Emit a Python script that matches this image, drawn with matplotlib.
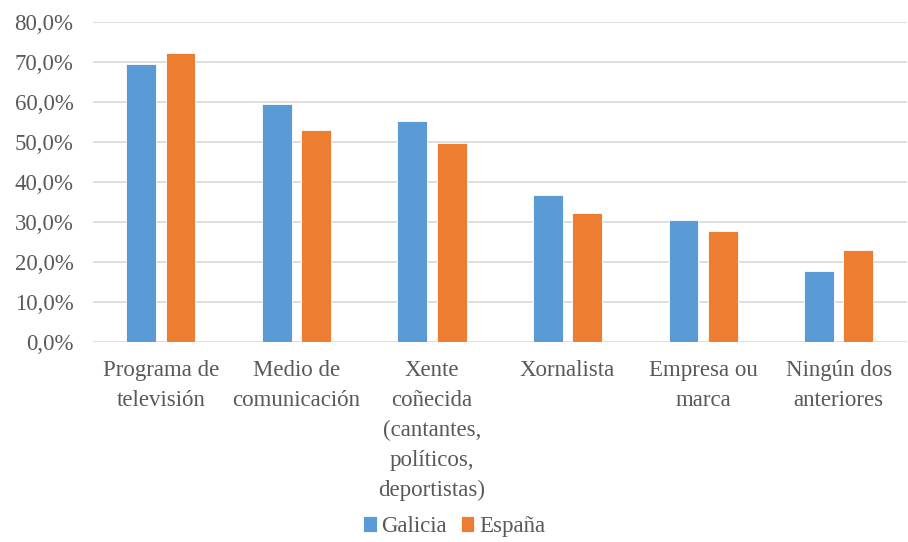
import numpy as np
import matplotlib.pyplot as plt
from matplotlib.ticker import FuncFormatter

# Categories and values
categories = ['Programa de\ntelevisión', 'Medio de\ncomunicación',
              'Xente\ncoñecida\n(cantantes,\npolíticos,\ndeportistas)',
              'Xornalista', 'Empresa ou\nmarca', 'Ningún dos\nanteriores']
galicia = [69.5, 59.5, 55.2, 36.7, 30.6, 17.7]
espana = [72.2, 53.1, 49.9, 32.2, 27.7, 23.0]
series_names = ['Galicia', 'España']

plt.rcParams['font.family'] = ['Liberation Serif', 'DejaVu Serif']
text_color = '#595959'
fs = 16.5

fig = plt.figure(figsize=(9.08, 5.42), dpi=100)
ax = fig.add_axes([0.1024, 0.369, 0.896, 0.590])

x = np.arange(len(categories))
w = 0.22
off = 0.145
ax.bar(x - off, np.array(galicia) / 100, width=w, color='#5B9BD5',
       edgecolor='white', linewidth=0.6, label=series_names[0], zorder=3)
ax.bar(x + off, np.array(espana) / 100, width=w, color='#ED7D31',
       edgecolor='white', linewidth=0.6, label=series_names[1], zorder=3)

ax.set_xlim(-0.5, len(categories) - 0.5)
ax.set_ylim(0, 0.8)
ax.set_yticks(np.arange(0, 0.81, 0.1))
ax.yaxis.set_major_formatter(FuncFormatter(lambda v, p: f'{v*100:.1f}%'.replace('.', ',')))
ax.grid(axis='y', color='#d9d9d9', linewidth=1.2, zorder=0)
ax.set_axisbelow(True)

for s in ax.spines.values():
    s.set_visible(False)
ax.tick_params(axis='both', length=0, labelsize=fs, colors=text_color)
ax.tick_params(axis='y', pad=14)
ax.tick_params(axis='x', pad=13)
ax.set_xticks(x)
ax.set_xticklabels(categories, linespacing=1.55)

fig.legend(loc='lower center', bbox_to_anchor=(0.5, -0.028), ncol=2,
           frameon=False, fontsize=fs, handlelength=0.6, handleheight=0.7,
           handletextpad=0.2, columnspacing=0.6, labelcolor=text_color)

fig.savefig('out.png', dpi=100)
